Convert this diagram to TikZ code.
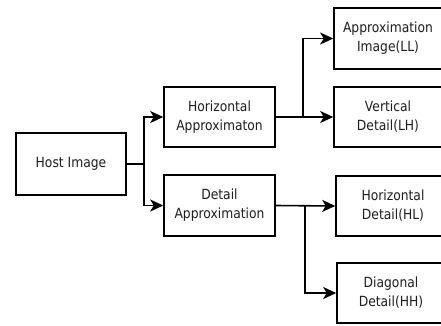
\documentclass[tikz,border=0pt]{standalone}
\usepackage{fontspec}
\setmainfont{DejaVu Sans}[FakeStretch=0.88]
\usetikzlibrary{arrows.meta}
\definecolor{txt}{HTML}{1E1E1E}
\begin{document}
\begin{tikzpicture}[x=1pt,y=-1pt,
  >={Stealth[length=13pt,width=12pt,inset=3.5pt]},
  box/.style={draw=black,line width=1.6pt,inner sep=0pt,align=center,text=txt,
    font=\fontsize{14}{19}\selectfont},
  conn/.style={draw=black,line width=1.6pt,->},
  plain/.style={draw=black,line width=1.6pt}]
\clip (0,0) rectangle (441,325);
\fill[white] (0,0) rectangle (441,325);
\node[box,minimum width=110pt,minimum height=62pt] (host) at (71,164) {Host Image};
\node[box,minimum width=111pt,minimum height=60pt] (ha) at (219.5,117) {Horizontal\\Approximaton};
\node[box,minimum width=111pt,minimum height=61pt] (da) at (219.5,205.5) {Detail\\Approximation};
\node[box,minimum width=108pt,minimum height=61pt] (ll) at (388,38.5) {Approximation\\Image(LL)};
\node[box,minimum width=108pt,minimum height=60pt] (lh) at (388,117) {Vertical\\Detail(LH)};
\node[box,minimum width=114pt,minimum height=60pt] (hl) at (393,206) {Horizontal\\Detail(HL)};
\node[box,minimum width=108pt,minimum height=60pt] (hh) at (391,293) {Diagonal\\Detail(HH)};
\coordinate (b1) at (144,164);
\coordinate (b2) at (303,117);
\coordinate (b3) at (305,206);
\draw[plain] (host.east) -- (b1);
\draw[conn] (b1) |- (ha.west);
\draw[conn] (b1) |- (da.west);
\draw[conn] (ha.east) -- (lh.west);
\draw[conn] (b2) |- (ll.west);
\draw[conn] (da.east) -- (hl.west);
\draw[conn] (b3) |- (hh.west);
\end{tikzpicture}
\end{document}
